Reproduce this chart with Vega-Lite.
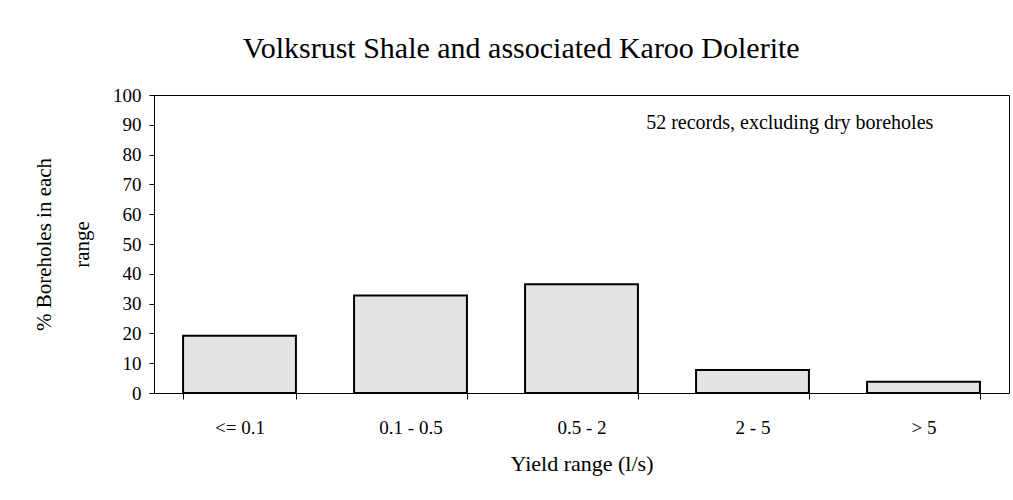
{
  "$schema": "https://vega.github.io/schema/vega-lite/v6.json",
  "autosize": {"type": "none"},
  "width": 855,
  "height": 298,
  "padding": {"left": 154, "top": 95, "right": 4, "bottom": 107},
  "background": "white",
  "title": {
    "text": "Volksrust Shale and associated Karoo Dolerite",
    "font": "Liberation Serif",
    "fontSize": 30,
    "fontWeight": "normal",
    "color": "black",
    "anchor": "middle",
    "frame": "bounds",
    "offset": 22
  },
  "config": {
    "view": {"stroke": "black", "strokeWidth": 1},
    "axis": {
      "labelFont": "Liberation Serif",
      "titleFont": "Liberation Serif",
      "labelColor": "black",
      "titleColor": "black",
      "domainColor": "black",
      "tickColor": "black",
      "titleFontWeight": "normal",
      "grid": false
    }
  },
  "resolve": {"axis": {"x": "independent", "y": "independent"}},
  "layer": [
    {
      "data": {
        "values": [
          {"range": "<= 0.1", "pct": 19.2},
          {"range": "0.1 - 0.5", "pct": 32.7},
          {"range": "0.5 - 2", "pct": 36.5},
          {"range": "2 - 5", "pct": 7.7},
          {"range": "> 5", "pct": 3.8}
        ]
      },
      "mark": {"type": "bar", "fill": "#e4e4e4", "stroke": "black", "strokeWidth": 2},
      "encoding": {
        "x": {
          "field": "range",
          "type": "nominal",
          "sort": null,
          "scale": {"paddingInner": 0.34, "paddingOuter": 0.17},
          "axis": {
            "title": "Yield range (l/s)",
            "titleFontSize": 22,
            "titlePadding": 16,
            "labelFontSize": 19,
            "labelAngle": 0,
            "labelPadding": 19,
            "tickBand": "extent",
            "tickSize": 6
          }
        },
        "y": {
          "field": "pct",
          "type": "quantitative",
          "scale": {"domain": [0, 100], "nice": false},
          "axis": {
            "title": ["% Boreholes in each", "range"],
            "titleFontSize": 21,
            "titleLineHeight": 38,
            "titlePadding": 20,
            "labelFontSize": 19,
            "labelPadding": 8,
            "labelOverlap": false,
            "tickSize": 5,
            "values": [0, 10, 20, 30, 40, 50, 60, 70, 80, 90, 100]
          }
        }
      }
    },
    {
      "data": {"values": [{"note": "52 records, excluding dry boreholes"}]},
      "mark": {"type": "text", "font": "Liberation Serif", "fontSize": 20, "fontWeight": "normal", "align": "center", "baseline": "middle", "fill": "black"},
      "encoding": {
        "x": {"datum": "2 - 5", "type": "nominal", "bandPosition": 0.83, "axis": null},
        "y": {"datum": 90.5, "type": "quantitative", "axis": null},
        "text": {"field": "note", "type": "nominal"}
      }
    }
  ]
}
